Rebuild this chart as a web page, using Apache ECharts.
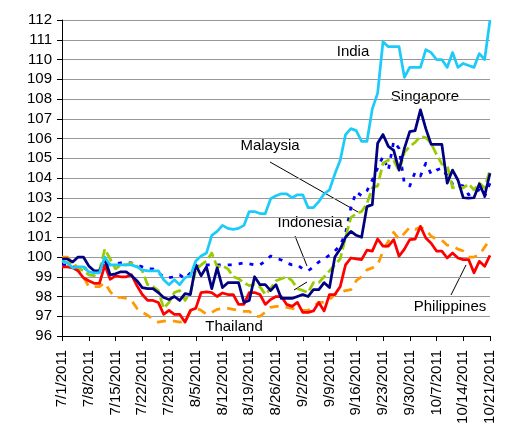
<!DOCTYPE html>
<html>
<head>
<meta charset="utf-8">
<script src="https://cdn.jsdelivr.net/npm/echarts@6.0.0/dist/echarts.min.js"></script>
<style>
  html, body { margin: 0; padding: 0; background: #fff; }
  #chart { width: 518px; height: 427px; }
</style>
</head>
<body>
<div id="chart"></div>
<script>
// business days, 7/1/2011 .. 10/21/2011
const dates = [
  '7/1/2011',
  '7/4/2011', '7/5/2011', '7/6/2011', '7/7/2011', '7/8/2011',
  '7/11/2011', '7/12/2011', '7/13/2011', '7/14/2011', '7/15/2011',
  '7/18/2011', '7/19/2011', '7/20/2011', '7/21/2011', '7/22/2011',
  '7/25/2011', '7/26/2011', '7/27/2011', '7/28/2011', '7/29/2011',
  '8/1/2011', '8/2/2011', '8/3/2011', '8/4/2011', '8/5/2011',
  '8/8/2011', '8/9/2011', '8/10/2011', '8/11/2011', '8/12/2011',
  '8/15/2011', '8/16/2011', '8/17/2011', '8/18/2011', '8/19/2011',
  '8/22/2011', '8/23/2011', '8/24/2011', '8/25/2011', '8/26/2011',
  '8/29/2011', '8/30/2011', '8/31/2011', '9/1/2011', '9/2/2011',
  '9/5/2011', '9/6/2011', '9/7/2011', '9/8/2011', '9/9/2011',
  '9/12/2011', '9/13/2011', '9/14/2011', '9/15/2011', '9/16/2011',
  '9/19/2011', '9/20/2011', '9/21/2011', '9/22/2011', '9/23/2011',
  '9/26/2011', '9/27/2011', '9/28/2011', '9/29/2011', '9/30/2011',
  '10/3/2011', '10/4/2011', '10/5/2011', '10/6/2011', '10/7/2011',
  '10/10/2011', '10/11/2011', '10/12/2011', '10/13/2011', '10/14/2011',
  '10/17/2011', '10/18/2011', '10/19/2011', '10/20/2011', '10/21/2011'
];

const india = [
  99.8, 99.7, 99.45, 99.5, 99.5, 99.25, 99.2, 99.2, 100.0, 99.6,
  99.6, 99.6, 99.6, 99.6, 99.5, 99.35, 99.3, 99.3, 99.3, 98.85,
  98.6, 98.85, 98.6, 98.95, 99.05, 99.8, 100.05, 100.2, 101.1, 101.3,
  101.6, 101.45, 101.4, 101.45, 101.6, 102.3, 102.3, 102.2, 102.2, 102.95,
  103.1, 103.2, 103.2, 103.0, 103.15, 103.15, 102.5, 102.5, 102.8, 103.2,
  103.4, 104.2, 104.9, 106.2, 106.5, 106.4, 105.85, 105.85, 107.5, 108.3,
  110.9, 110.65, 110.65, 110.65, 109.1, 109.6, 109.6, 109.6, 110.5, 110.35,
  110.0, 110.0, 109.6, 110.35, 109.6, 109.8, 109.7, 109.6, 110.3, 110.0,
  112.0
];
const singapore = [
  99.9, 99.9, 99.75, 100.0, 100.0, 99.55, 99.3, 99.3, 99.9, 99.1,
  99.15, 99.25, 99.25, 99.05, 98.8, 98.45, 98.4, 98.4, 98.2, 97.95,
  97.85, 98.0, 97.8, 98.15, 98.1, 99.6, 99.05, 99.5, 98.4, 99.45,
  98.45, 98.7, 98.7, 98.7, 97.7, 97.8, 99.0, 98.6, 98.6, 98.3,
  98.6, 97.9, 97.9, 97.9, 98.0, 98.1, 98.0, 98.35, 98.35, 98.7,
  98.45, 100.0, 100.4, 101.0, 101.3, 101.1, 101.0, 102.55, 102.65, 105.76,
  106.2, 105.6, 105.4, 104.4, 105.5, 106.35, 106.4, 107.45, 106.5, 105.7,
  105.7, 105.7, 103.74, 104.4, 103.9, 103.0, 102.98, 103.0, 103.7, 103.1,
  104.24
];
const malaysia = [
  99.8, 99.7, 99.7, 99.45, 99.3, 99.1, 99.05, 99.3, 100.4, 99.9,
  99.4, 99.6, 99.6, 99.7, 99.55, 99.3, 98.6, 98.5, 98.3, 97.4,
  97.7, 98.2, 98.3, 97.8, 98.2, 99.35, 99.6, 99.8, 100.2, 99.5,
  99.55, 99.4, 99.0, 98.9, 98.7, 98.55, 98.6, 98.5, 98.1, 98.4,
  98.8, 98.9, 99.0, 98.8, 98.4, 98.3, 98.2, 98.7, 98.7, 99.0,
  99.3, 99.6, 99.9, 101.0, 102.0, 102.2, 102.3, 102.7, 103.5, 103.6,
  104.75, 104.9, 104.9, 104.35, 105.3, 105.6, 105.8, 106.1, 106.05, 105.75,
  105.2, 104.7, 104.65, 103.5, 103.6, 103.5, 103.7, 103.4, 103.75, 103.5,
  104.4
];
const indonesia = [
  99.6, 99.6, 99.5, 99.45, 99.5, 99.3, 99.25, 99.25, 99.8, 99.6,
  99.65, 99.7, 99.7, 99.7, 99.6, 99.5, 99.4, 99.4, 99.2, 99.0,
  98.95, 99.0, 99.1, 98.9, 99.2, 99.5, 99.6, 99.6, 99.6, 99.6,
  99.6, 99.6, 99.6, 99.65, 99.7, 99.65, 99.6, 99.6, 99.8, 100.05,
  99.95, 99.85, 99.7, 99.6, 99.6, 99.4, 99.3, 99.5, 99.75, 99.9,
  100.1, 100.3, 100.6, 101.2, 102.5, 103.3, 103.1, 103.35, 103.9, 104.5,
  105.1, 104.4, 105.85, 105.5, 103.7, 103.6, 104.3, 104.1, 104.75, 104.2,
  104.4, 104.5, 104.1, 103.7, 103.65, 103.6, 103.15, 103.3, 103.4, 103.06,
  103.74
];
const philippines = [
  100.0, 100.0, 99.7, 99.4, 99.0, 98.5, 98.5, 98.5, 98.7, 98.25,
  97.95, 97.95, 97.9, 97.8, 97.4, 97.2, 97.05, 96.85, 96.7, 96.75,
  96.75, 96.75, 96.7, 96.75, 97.25, 97.4, 97.3, 97.1, 97.2, 97.35,
  97.4, 97.4, 97.35, 97.3, 97.25, 97.25, 97.0, 97.0, 97.2, 97.45,
  97.5, 97.5, 97.45, 97.4, 97.35, 97.3, 97.3, 97.5, 97.7, 97.7,
  97.85, 98.1, 98.2, 98.3, 98.35, 98.8, 99.0, 99.35, 99.45, 99.6,
  100.3, 100.8, 101.25, 100.9, 101.2, 101.5, 101.4, 101.5, 101.4, 101.05,
  100.9, 100.85, 100.6, 100.55, 100.4, 100.3, 100.0, 100.0, 100.1, 100.5,
  100.9
];
const thailand = [
  99.5, 99.5, 99.45, 99.3, 98.95, 98.8, 98.67, 98.67, 99.58, 98.87,
  99.04, 99.0, 99.0, 99.1, 98.55, 98.1, 97.8, 97.8, 97.7, 97.1,
  97.3, 97.1, 97.1, 96.7, 97.3, 97.4, 98.2, 98.23, 98.2, 98.0,
  98.18, 98.1, 98.1, 97.6, 97.6, 98.2, 98.2, 98.1, 97.6, 97.85,
  98.0, 98.0, 97.6, 97.5, 97.7, 97.2, 97.2, 97.27, 97.7, 97.27,
  98.1, 98.1, 98.5, 99.6, 99.95, 99.9, 99.87, 100.35, 100.3, 100.91,
  100.55, 100.55, 100.88, 100.04, 100.4, 100.88, 100.9, 101.55, 100.96, 100.7,
  100.3, 100.3, 99.95, 100.2, 99.95, 99.87, 99.87, 99.2, 99.78, 99.53,
  100.08
];

const font = '"Liberation Sans", Arial, sans-serif';

function line(name, data, color, type, width) {
  return {
    name: name,
    type: 'line',
    data: data,
    showSymbol: false,
    symbol: 'none',
    animation: false,
    lineStyle: { color: color, width: width, type: type, join: 'round' },
    itemStyle: { color: color }
  };
}

function label(text, x, y) {
  return {
    type: 'text', x: x, y: y,
    style: { text: text, font: '15px ' + font, fill: '#000', align: 'center', verticalAlign: 'middle' }
  };
}
function pointer(x1, y1, x2, y2) {
  return {
    type: 'line',
    shape: { x1: x1, y1: y1, x2: x2, y2: y2 },
    style: { stroke: '#000', lineWidth: 1 }
  };
}

const chart = echarts.init(document.getElementById('chart'));
chart.setOption({
  animation: false,
  backgroundColor: '#fff',
  grid: { left: 62, right: 28, top: 20, bottom: 91 },
  xAxis: {
    type: 'category',
    data: dates,
    boundaryGap: false,
    axisLine: { lineStyle: { color: '#000', width: 1 } },
    axisTick: { show: true, interval: 4, length: 5, lineStyle: { color: '#000' } },
    axisLabel: {
      interval: 4, rotate: 90, margin: 14,
      color: '#000', fontSize: 15, fontFamily: font
    },
    splitLine: { show: false }
  },
  yAxis: {
    type: 'value',
    min: 96, max: 112, interval: 1,
    axisLine: { show: true, lineStyle: { color: '#000', width: 1 } },
    axisTick: { show: true, length: 5, lineStyle: { color: '#000' } },
    axisLabel: { color: '#000', fontSize: 15, fontFamily: font, margin: 10 },
    splitLine: { show: true, lineStyle: { color: '#999', width: 1 } }
  },
  series: [
    line('Philippines', philippines, '#FF9900', [9, 7], 2.75),
    line('Indonesia', indonesia, '#0000FF', [4, 7], 2.75),
    line('Malaysia', malaysia, '#99CC00', [10, 4], 2.75),
    line('Thailand', thailand, '#FF0000', 'solid', 2.75),
    line('Singapore', singapore, '#000080', 'solid', 2.75),
    line('India', india, '#1ECBF8', 'solid', 2.75)
  ],
  graphic: [
    label('India', 353, 52),
    label('Singapore', 425, 97),
    label('Malaysia', 270, 146),
    label('Indonesia', 310, 223),
    label('Thailand', 234, 327),
    label('Philippines', 450, 307),
    pointer(270, 162, 358, 212),
    pointer(295, 236, 307, 266),
    pointer(294, 290, 307, 282),
    pointer(451, 295, 466, 265)
  ]
});
</script>
</body>
</html>
